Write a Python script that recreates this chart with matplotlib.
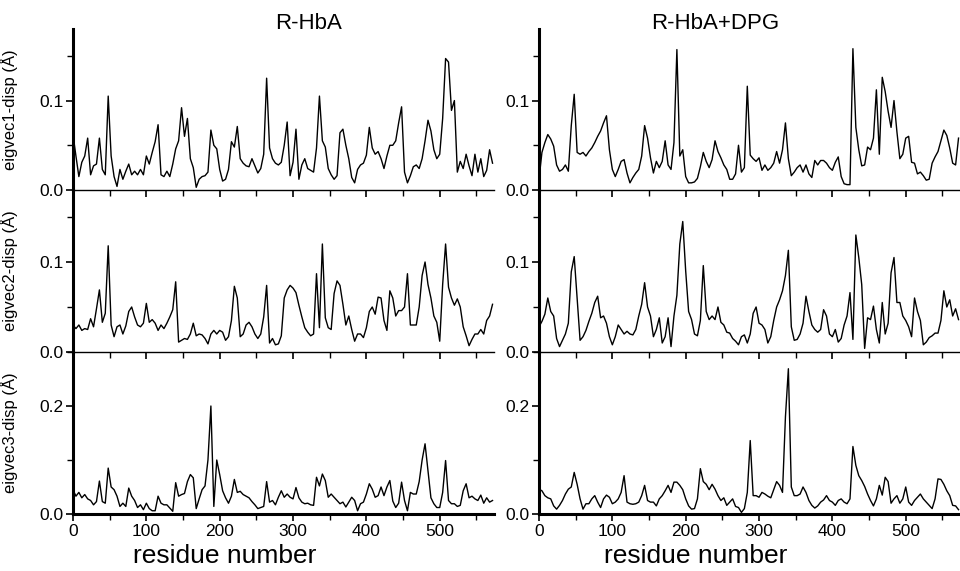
import numpy as np
import matplotlib
matplotlib.use("Agg")
import matplotlib.pyplot as plt
from matplotlib.ticker import MultipleLocator, FormatStrFormatter

plt.rcParams['font.family'] = ['Liberation Sans', 'DejaVu Sans']

# residue numbers (sampled every 4 residues)
residues = np.arange(0, 574, 4)

# eigenvector 1 displacement, R-HbA
e1_hba = [0.062, 0.038, 0.015, 0.031, 0.038, 0.058, 0.017, 0.027, 0.029, 0.058,
          0.023, 0.017, 0.105, 0.038, 0.015, 0.004, 0.023, 0.012, 0.021, 0.029,
          0.017, 0.021, 0.017, 0.023, 0.017, 0.038, 0.029, 0.042, 0.054, 0.073,
          0.017, 0.015, 0.021, 0.015, 0.029, 0.046, 0.055, 0.092, 0.060, 0.080,
          0.035, 0.025, 0.003, 0.012, 0.015, 0.016, 0.020, 0.067, 0.050, 0.046,
          0.023, 0.010, 0.012, 0.023, 0.054, 0.048, 0.071, 0.035, 0.030, 0.027,
          0.026, 0.035, 0.027, 0.019, 0.024, 0.040, 0.125, 0.047, 0.035, 0.030,
          0.028, 0.031, 0.050, 0.076, 0.016, 0.031, 0.068, 0.012, 0.028, 0.035,
          0.024, 0.022, 0.020, 0.047, 0.105, 0.055, 0.048, 0.024, 0.017, 0.012,
          0.016, 0.064, 0.068, 0.050, 0.035, 0.014, 0.008, 0.023, 0.028, 0.030,
          0.039, 0.070, 0.047, 0.040, 0.043, 0.035, 0.024, 0.038, 0.050, 0.050,
          0.055, 0.075, 0.093, 0.020, 0.008, 0.016, 0.026, 0.028, 0.024, 0.035,
          0.055, 0.078, 0.066, 0.045, 0.035, 0.040, 0.080, 0.147, 0.143, 0.089,
          0.100, 0.020, 0.032, 0.024, 0.040, 0.027, 0.016, 0.040, 0.020, 0.035,
          0.015, 0.022, 0.045, 0.030]

# eigenvector 1 displacement, R-HbA+DPG
e1_dpg = [0.012, 0.042, 0.053, 0.062, 0.057, 0.049, 0.028, 0.021, 0.023, 0.028,
          0.021, 0.072, 0.107, 0.042, 0.040, 0.042, 0.038, 0.043, 0.047, 0.053,
          0.060, 0.066, 0.075, 0.083, 0.045, 0.023, 0.015, 0.023, 0.032, 0.034,
          0.019, 0.008, 0.014, 0.019, 0.023, 0.038, 0.072, 0.058, 0.036, 0.019,
          0.032, 0.025, 0.032, 0.055, 0.028, 0.023, 0.053, 0.157, 0.038, 0.045,
          0.015, 0.008, 0.008, 0.009, 0.013, 0.026, 0.042, 0.032, 0.025, 0.034,
          0.055, 0.043, 0.036, 0.028, 0.023, 0.012, 0.012, 0.018, 0.050, 0.020,
          0.025, 0.116, 0.039, 0.035, 0.032, 0.036, 0.022, 0.028, 0.022, 0.025,
          0.030, 0.043, 0.030, 0.045, 0.075, 0.035, 0.016, 0.020, 0.025, 0.028,
          0.020, 0.028, 0.018, 0.014, 0.033, 0.028, 0.033, 0.033, 0.030, 0.025,
          0.022, 0.031, 0.037, 0.015, 0.007, 0.006, 0.006, 0.158, 0.070, 0.045,
          0.027, 0.028, 0.048, 0.045, 0.058, 0.112, 0.040, 0.126, 0.110, 0.088,
          0.070, 0.100, 0.065, 0.035, 0.040, 0.058, 0.060, 0.031, 0.030, 0.018,
          0.020, 0.016, 0.011, 0.012, 0.030, 0.037, 0.043, 0.055, 0.067, 0.061,
          0.047, 0.030, 0.028, 0.058]

# eigenvector 2 displacement, R-HbA
e2_hba = [0.030, 0.026, 0.030, 0.024, 0.026, 0.025, 0.037, 0.028, 0.048, 0.069,
          0.033, 0.043, 0.118, 0.030, 0.017, 0.028, 0.030, 0.020, 0.029, 0.045,
          0.050, 0.039, 0.030, 0.028, 0.032, 0.054, 0.033, 0.036, 0.032, 0.024,
          0.030, 0.026, 0.032, 0.039, 0.047, 0.078, 0.011, 0.013, 0.015, 0.014,
          0.020, 0.032, 0.018, 0.020, 0.019, 0.015, 0.009, 0.020, 0.024, 0.020,
          0.024, 0.022, 0.013, 0.017, 0.035, 0.073, 0.060, 0.017, 0.020, 0.030,
          0.033, 0.028, 0.020, 0.015, 0.020, 0.039, 0.074, 0.010, 0.015, 0.008,
          0.009, 0.018, 0.060, 0.069, 0.074, 0.071, 0.066, 0.052, 0.039, 0.027,
          0.022, 0.018, 0.020, 0.087, 0.027, 0.120, 0.038, 0.027, 0.025, 0.065,
          0.079, 0.074, 0.053, 0.030, 0.040, 0.025, 0.012, 0.020, 0.020, 0.016,
          0.027, 0.045, 0.050, 0.042, 0.061, 0.060, 0.035, 0.024, 0.068, 0.060,
          0.040, 0.046, 0.046, 0.050, 0.087, 0.030, 0.030, 0.030, 0.050, 0.085,
          0.100, 0.075, 0.060, 0.040, 0.033, 0.012, 0.075, 0.120, 0.072, 0.060,
          0.052, 0.059, 0.050, 0.028, 0.018, 0.007, 0.014, 0.020, 0.020, 0.025,
          0.020, 0.035, 0.040, 0.053]

# eigenvector 2 displacement, R-HbA+DPG
e2_dpg = [0.028, 0.034, 0.042, 0.060, 0.045, 0.040, 0.015, 0.006, 0.013, 0.020,
          0.032, 0.089, 0.106, 0.060, 0.013, 0.017, 0.024, 0.034, 0.043, 0.055,
          0.062, 0.038, 0.040, 0.032, 0.017, 0.008, 0.017, 0.030, 0.025, 0.020,
          0.023, 0.020, 0.019, 0.025, 0.040, 0.053, 0.077, 0.050, 0.040, 0.017,
          0.025, 0.038, 0.010, 0.017, 0.038, 0.006, 0.040, 0.063, 0.120, 0.145,
          0.090, 0.045, 0.036, 0.020, 0.018, 0.035, 0.096, 0.045, 0.036, 0.040,
          0.036, 0.050, 0.033, 0.030, 0.022, 0.021, 0.015, 0.012, 0.008, 0.017,
          0.019, 0.010, 0.020, 0.043, 0.050, 0.032, 0.030, 0.025, 0.010, 0.017,
          0.035, 0.050, 0.058, 0.068, 0.085, 0.113, 0.028, 0.013, 0.014, 0.020,
          0.032, 0.062, 0.045, 0.030, 0.025, 0.022, 0.025, 0.047, 0.040, 0.020,
          0.017, 0.025, 0.011, 0.015, 0.030, 0.040, 0.066, 0.014, 0.130, 0.105,
          0.075, 0.004, 0.038, 0.036, 0.051, 0.025, 0.010, 0.055, 0.020, 0.032,
          0.088, 0.105, 0.055, 0.055, 0.040, 0.035, 0.028, 0.017, 0.060, 0.045,
          0.035, 0.008, 0.011, 0.016, 0.018, 0.021, 0.021, 0.035, 0.068, 0.050,
          0.058, 0.040, 0.048, 0.036]

# eigenvector 3 displacement, R-HbA
e3_hba = [0.045, 0.033, 0.040, 0.030, 0.036, 0.028, 0.025, 0.017, 0.023, 0.061,
          0.023, 0.020, 0.085, 0.050, 0.045, 0.033, 0.014, 0.020, 0.014, 0.048,
          0.033, 0.025, 0.012, 0.017, 0.008, 0.020, 0.010, 0.006, 0.006, 0.033,
          0.020, 0.017, 0.017, 0.011, 0.005, 0.058, 0.033, 0.036, 0.038, 0.060,
          0.073, 0.067, 0.010, 0.028, 0.045, 0.052, 0.100, 0.200, 0.014, 0.100,
          0.073, 0.043, 0.030, 0.020, 0.033, 0.064, 0.040, 0.042, 0.036, 0.033,
          0.030, 0.023, 0.017, 0.010, 0.012, 0.014, 0.060, 0.022, 0.025, 0.017,
          0.031, 0.043, 0.031, 0.037, 0.031, 0.028, 0.049, 0.030, 0.022, 0.019,
          0.020, 0.017, 0.016, 0.068, 0.052, 0.074, 0.062, 0.031, 0.037, 0.031,
          0.025, 0.019, 0.022, 0.013, 0.022, 0.031, 0.025, 0.006, 0.019, 0.022,
          0.037, 0.056, 0.046, 0.031, 0.034, 0.050, 0.034, 0.050, 0.062, 0.024,
          0.012, 0.020, 0.059, 0.025, 0.006, 0.040, 0.037, 0.037, 0.060, 0.100,
          0.130, 0.080, 0.030, 0.019, 0.012, 0.012, 0.040, 0.099, 0.025, 0.019,
          0.019, 0.014, 0.016, 0.043, 0.056, 0.030, 0.033, 0.028, 0.025, 0.035,
          0.020, 0.030, 0.022, 0.025]

# eigenvector 3 displacement, R-HbA+DPG
e3_dpg = [0.046, 0.043, 0.034, 0.030, 0.028, 0.015, 0.009, 0.016, 0.025, 0.037,
          0.046, 0.050, 0.077, 0.055, 0.028, 0.009, 0.019, 0.019, 0.028, 0.034,
          0.022, 0.012, 0.028, 0.035, 0.031, 0.019, 0.022, 0.028, 0.040, 0.071,
          0.022, 0.019, 0.018, 0.019, 0.022, 0.034, 0.053, 0.025, 0.022, 0.022,
          0.015, 0.028, 0.034, 0.043, 0.053, 0.040, 0.059, 0.059, 0.053, 0.045,
          0.028, 0.015, 0.009, 0.010, 0.028, 0.084, 0.060, 0.055, 0.045, 0.055,
          0.046, 0.034, 0.025, 0.030, 0.016, 0.022, 0.028, 0.014, 0.012, 0.003,
          0.010, 0.040, 0.136, 0.034, 0.034, 0.031, 0.040, 0.037, 0.033, 0.030,
          0.045, 0.060, 0.053, 0.040, 0.180, 0.269, 0.050, 0.034, 0.034, 0.037,
          0.050, 0.040, 0.025, 0.016, 0.011, 0.015, 0.022, 0.026, 0.034, 0.025,
          0.022, 0.016, 0.025, 0.028, 0.022, 0.019, 0.028, 0.125, 0.090, 0.071,
          0.062, 0.051, 0.037, 0.025, 0.015, 0.028, 0.053, 0.035, 0.068, 0.060,
          0.020, 0.028, 0.034, 0.020, 0.028, 0.050, 0.022, 0.016, 0.025, 0.031,
          0.037, 0.028, 0.022, 0.016, 0.010, 0.028, 0.065, 0.064, 0.055, 0.043,
          0.034, 0.016, 0.015, 0.008]

titles = ["R-HbA", "R-HbA+DPG"]
ylabels = ["eigvec1-disp (Å)", "eigvec2-disp (Å)", "eigvec3-disp (Å)"]
xlabel = "residue number"
x_ticks = [0, 100, 200, 300, 400, 500]

series = [[e1_hba, e1_dpg], [e2_hba, e2_dpg], [e3_hba, e3_dpg]]

W, H = 960, 571
fig = plt.figure(figsize=(W / 100, H / 100), dpi=100)

col_left = [73, 539]
ax_w = 421
row_top = [29, 190, 352]
row_bot = [190, 352, 514]
ytop = [0.18, 0.18, 0.30]
ymaj = [0.1, 0.1, 0.2]
ymin = [0.05, 0.05, 0.1]

for i in range(3):
    for j in range(2):
        vals = np.asarray(series[i][j])
        assert len(vals) == len(residues)
        ax = fig.add_axes([col_left[j] / W, (H - row_bot[i]) / H,
                           ax_w / W, (row_bot[i] - row_top[i]) / H])
        ax.plot(residues, vals, color='black', lw=1.0)
        ax.set_xlim(0, 574)
        ax.set_ylim(0, ytop[i])
        ax.spines['top'].set_visible(False)
        ax.spines['right'].set_visible(False)
        ax.spines['left'].set_linewidth(2.2)
        ax.spines['bottom'].set_linewidth(2.2 if i == 2 else 1.0)
        ax.xaxis.set_major_locator(MultipleLocator(100))
        ax.xaxis.set_minor_locator(MultipleLocator(50))
        ax.yaxis.set_major_locator(MultipleLocator(ymaj[i]))
        ax.yaxis.set_minor_locator(MultipleLocator(ymin[i]))
        ax.yaxis.set_major_formatter(FormatStrFormatter('%.1f'))
        ax.tick_params(axis='both', which='major', direction='out', length=5,
                       width=1.2, labelsize=12.5, pad=2)
        ax.tick_params(axis='both', which='minor', direction='out', length=4,
                       width=1.0)
        if i < 2:
            ax.tick_params(axis='x', which='both', labelbottom=False)
        if j == 0:
            ax.set_ylabel(ylabels[i], fontsize=12)
            ax.yaxis.set_label_coords(-0.131, 0.5)
        ax.patch.set_alpha(0)

# column titles
fig.text(309 / W, (H - 29) / H, titles[0], fontsize=16, ha='center', va='baseline')
fig.text(715 / W, (H - 29) / H, titles[1], fontsize=16, ha='center', va='baseline')
# x labels
fig.text(225 / W, (H - 556) / H, xlabel, fontsize=19, ha='center', va='center')
fig.text(696 / W, (H - 556) / H, xlabel, fontsize=19, ha='center', va='center')

fig.savefig("out.png", dpi=100)
